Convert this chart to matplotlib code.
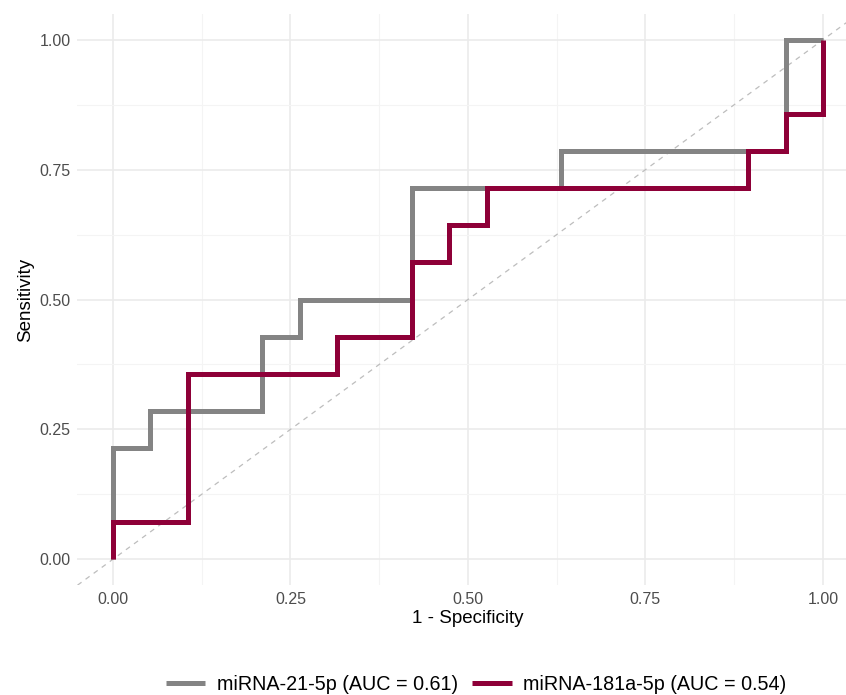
import matplotlib.pyplot as plt
from matplotlib.ticker import MultipleLocator

# ROC step coordinates (1 - specificity, sensitivity)
fpr_21 = [0.0, 0.0, 0.0526, 0.0526, 0.2105, 0.2105, 0.2632, 0.2632, 0.4211, 0.4211,
          0.6316, 0.6316, 0.9474, 0.9474, 1.0]
tpr_21 = [0.0, 0.2143, 0.2143, 0.2857, 0.2857, 0.4286, 0.4286, 0.5, 0.5, 0.7143,
          0.7143, 0.7857, 0.7857, 1.0, 1.0]

fpr_181 = [0.0, 0.0, 0.1053, 0.1053, 0.3158, 0.3158, 0.4211, 0.4211, 0.4737, 0.4737,
           0.5263, 0.5263, 0.8947, 0.8947, 0.9474, 0.9474, 1.0, 1.0]
tpr_181 = [0.0, 0.0714, 0.0714, 0.3571, 0.3571, 0.4286, 0.4286, 0.5714, 0.5714, 0.6429,
           0.6429, 0.7143, 0.7143, 0.7857, 0.7857, 0.8571, 0.8571, 1.0]

labels = ['miRNA-21-5p (AUC = 0.61)', 'miRNA-181a-5p (AUC = 0.54)']
colors = ['#848484', '#8E0038']
ticks = [0, 0.25, 0.5, 0.75, 1.0]
tick_labels = ['0.00', '0.25', '0.50', '0.75', '1.00']

plt.rcParams['font.family'] = ['Liberation Sans', 'DejaVu Sans']

fig = plt.figure(figsize=(8.46, 6.95), dpi=100)
ax = fig.add_axes([0.0916, 0.158, 0.923, 0.822])

# reference diagonal
ax.plot([-0.05, 1.05], [-0.05, 1.05], color='#BDBDBD', lw=0.9, ls=(0, (4, 4)), zorder=2)

for x, y, c, lab in zip([fpr_21, fpr_181], [tpr_21, tpr_181], colors, labels):
    ax.plot(x, y, color=c, lw=3.6, label=lab, solid_joinstyle='miter',
            solid_capstyle='butt', zorder=3)

ax.set_xlim(-0.05, 1.05)
ax.set_ylim(-0.05, 1.05)
ax.xaxis.set_minor_locator(MultipleLocator(0.125))
ax.yaxis.set_minor_locator(MultipleLocator(0.125))
ax.set_xticks(ticks)
ax.set_xticklabels(tick_labels)
ax.set_yticks(ticks)
ax.set_yticklabels(tick_labels)

ax.grid(which='major', color='#EBEBEB', lw=1.2)
ax.grid(which='minor', color='#F4F4F4', lw=0.8)
ax.set_axisbelow(True)
for s in ax.spines.values():
    s.set_visible(False)
ax.tick_params(which='both', length=0, labelsize=11.5, labelcolor='#4D4D4D', pad=5)

ax.set_xlabel('1 - Specificity', fontsize=13.5, color='black', labelpad=2)
ax.set_ylabel('Sensitivity', fontsize=13.5, color='black', labelpad=4)

fig.legend(loc='center', bbox_to_anchor=(0.563, 0.015), ncol=2, frameon=False,
           fontsize=14.2, handlelength=2.0, columnspacing=0.7, handletextpad=0.6)

plt.savefig('out.png', dpi=100)
